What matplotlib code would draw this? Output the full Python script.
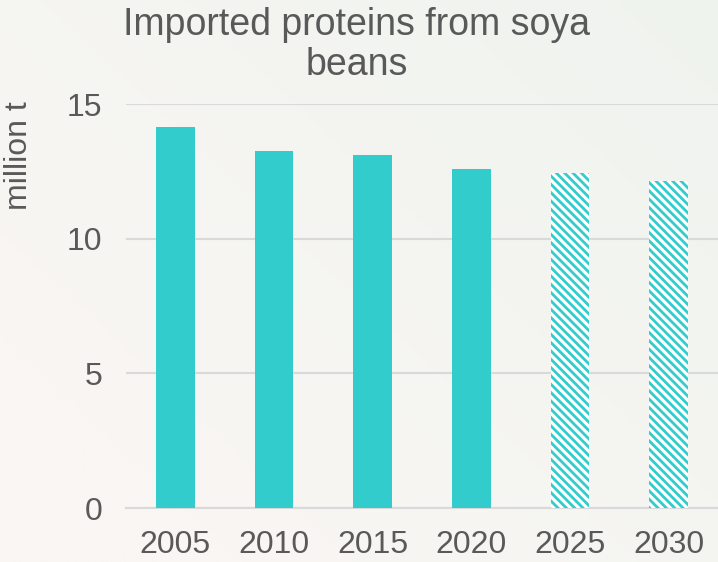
import numpy as np
import matplotlib
matplotlib.use("Agg")
import matplotlib.pyplot as plt
from matplotlib.colors import LinearSegmentedColormap

plt.rcParams['font.family'] = ['Liberation Sans', 'DejaVu Sans']
plt.rcParams['hatch.linewidth'] = 2.0

years = ["2005", "2010", "2015", "2020", "2025", "2030"]
values = [14.15, 13.27, 13.12, 12.60, 12.45, 12.15]
projected = [False, False, False, False, True, True]
yticks = [0, 5, 10, 15]

teal = "#33CCCC"
text_col = "#595959"

fig = plt.figure(figsize=(7.18, 5.62), dpi=100)

# background gradient (warm bottom-left to greenish top-right)
bg = fig.add_axes([0, 0, 1, 1], zorder=-10)
xx, yy = np.meshgrid(np.linspace(0, 1, 200), np.linspace(0, 1, 200))
t = np.clip(0.6 * xx + 0.5 * yy - 0.2, 0, 1)
cmap = LinearSegmentedColormap.from_list("bg", ["#F9F6F3", "#EEF3EE"])
bg.imshow(t, cmap=cmap, origin="lower", extent=[0, 1, 0, 1], aspect="auto", vmin=0, vmax=1)
bg.axis("off")

ax = fig.add_axes([126 / 718, 1 - 508 / 562, (718 - 126) / 718, (508 - 104) / 562])
ax.patch.set_alpha(0)
x = np.arange(len(years))
for xi, v, p in zip(x, values, projected):
    if p:
        ax.bar(xi, v, width=0.39, facecolor="white", edgecolor=teal, hatch="\\\\\\\\", linewidth=0, zorder=3)
    else:
        ax.bar(xi, v, width=0.39, color=teal, linewidth=0, zorder=3)

ax.set_xlim(-0.5, len(years) - 0.5)
ax.set_ylim(0, 15)
ax.set_yticks(yticks)
ax.set_xticks(x)
ax.set_xticklabels(years)
ax.grid(axis="y", color="#D9D9D9", linewidth=1.5, zorder=0)
for s in ["top", "right", "left"]:
    ax.spines[s].set_visible(False)
ax.spines["bottom"].set_color("#D9D9D9")
ax.spines["bottom"].set_linewidth(1.5)
ax.tick_params(axis="both", length=0, labelsize=23, labelcolor=text_col)
ax.tick_params(axis="x", pad=16)
ax.tick_params(axis="y", pad=17)

fig.text(19 / 718, 1 - 156 / 562, "million t", rotation=90, ha="center", va="center",
         fontsize=23, color=text_col)

fig.text(0.497, 1 - 45 / 562, "Imported proteins from soya\nbeans", ha="center", va="center",
         fontsize=27, color=text_col, linespacing=1.17)

fig.savefig("out.png", dpi=100)
